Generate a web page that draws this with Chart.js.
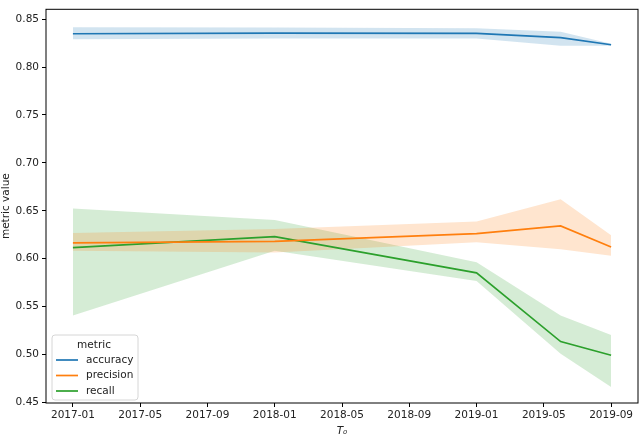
<!DOCTYPE html>
<html>
<head>
<meta charset="utf-8">
<script src="https://cdn.jsdelivr.net/npm/chart.js@4"></script>
<style>
  html, body { margin: 0; padding: 0; background: #fff; }
  #wrap { width: 640px; height: 439px; }
</style>
</head>
<body>
<div id="wrap"><canvas id="metricChart"></canvas></div>
<script>
// DATA
const dates = ["2017-01", "2018-01", "2019-01", "2019-06", "2019-09"];
const accuracy = [0.8347, 0.8354, 0.835, 0.8306, 0.8232];
const accuracyHi = [0.8415, 0.8412, 0.8405, 0.8367, 0.8242];
const accuracyLo = [0.8289, 0.8297, 0.8297, 0.8222, 0.8222];
const precision = [0.6166, 0.6182, 0.6261, 0.6343, 0.6122];
const precisionHi = [0.6268, 0.6309, 0.6388, 0.662, 0.6245];
const precisionLo = [0.6082, 0.6064, 0.6173, 0.6098, 0.6031];
const recall = [0.6115, 0.6231, 0.5853, 0.5136, 0.4993];
const recallHi = [0.6523, 0.6404, 0.5962, 0.5408, 0.5204];
const recallLo = [0.5408, 0.6082, 0.5768, 0.501, 0.4663];
const xTickLabels = ["2017-01", "2017-05", "2017-09", "2018-01", "2018-05", "2018-09", "2019-01", "2019-05", "2019-09"];
const yTicks = [0.45, 0.5, 0.55, 0.6, 0.65, 0.7, 0.75, 0.8, 0.85];

// months since 2017-01
function monthIndex(s) {
    const [y, m] = s.split("-").map(Number);
    return (y - 2017) * 12 + (m - 1);
}
const pts = (arr) => arr.map((v, i) => ({ x: monthIndex(dates[i]), y: v }));

const series = [
    { label: "accuracy", color: "#1f77b4", band: "rgba(31,119,180,0.2)", mid: accuracy, hi: accuracyHi, lo: accuracyLo },
    { label: "precision", color: "#ff7f0e", band: "rgba(255,127,14,0.2)", mid: precision, hi: precisionHi, lo: precisionLo },
    { label: "recall", color: "#2ca02c", band: "rgba(44,160,44,0.2)", mid: recall, hi: recallHi, lo: recallLo },
];

const datasets = [];
series.forEach((s) => {
    const hiIdx = datasets.length;
    datasets.push({
        data: pts(s.hi), borderWidth: 0, pointRadius: 0, backgroundColor: s.band,
        fill: { target: hiIdx + 1 }, order: 2, isBand: true,
    });
    datasets.push({
        data: pts(s.lo), borderWidth: 0, pointRadius: 0, fill: false, order: 2, isBand: true,
    });
});
series.forEach((s) => {
    datasets.push({
        label: s.label, data: pts(s.mid), borderColor: s.color, borderWidth: 1.7,
        pointRadius: 0, fill: false, tension: 0, order: 1,
    });
});

const FONT = "'DejaVu Sans', sans-serif";
const TXT = "#222";

// frame + legend
const framePlugin = {
    id: "frame",
    afterDraw(chart) {
        const { ctx, chartArea: a } = chart;
        ctx.save();
        ctx.strokeStyle = "#000";
        ctx.lineWidth = 1;
        ctx.strokeRect(a.left, a.top, a.right - a.left, a.bottom - a.top);

        // legend box
        const bx = 52, by = 335, bw = 86, bh = 65, r = 3;
        ctx.beginPath();
        ctx.moveTo(bx + r, by);
        ctx.arcTo(bx + bw, by, bx + bw, by + bh, r);
        ctx.arcTo(bx + bw, by + bh, bx, by + bh, r);
        ctx.arcTo(bx, by + bh, bx, by, r);
        ctx.arcTo(bx, by, bx + bw, by, r);
        ctx.closePath();
        ctx.fillStyle = "rgba(255,255,255,0.8)";
        ctx.fill();
        ctx.strokeStyle = "#d6d6d6";
        ctx.stroke();

        ctx.font = "10.5px " + FONT;
        ctx.fillStyle = TXT;
        ctx.textBaseline = "middle";
        ctx.textAlign = "center";
        ctx.fillText("metric", 94, 345);
        ctx.textAlign = "left";
        series.forEach((s, i) => {
            const y = 360 + i * 15.5;
            ctx.strokeStyle = s.color;
            ctx.lineWidth = 1.7;
            ctx.beginPath();
            ctx.moveTo(56, y);
            ctx.lineTo(78, y);
            ctx.stroke();
            ctx.fillText(s.label, 86, y);
        });
        ctx.restore();
    },
};

new Chart(document.getElementById("metricChart"), {
    type: "line",
    data: { datasets },
    plugins: [framePlugin],
    options: {
        responsive: true,
        maintainAspectRatio: false,
        animation: false,
        layout: { padding: { top: 1, right: 2, left: 0, bottom: 0 } },
        plugins: { legend: { display: false }, tooltip: { enabled: false } },
        scales: {
            x: {
                type: "linear",
                min: -1.6,
                max: 33.6,
                afterBuildTicks: (scale) => {
                    scale.ticks = xTickLabels.map((l) => ({ value: monthIndex(l) }));
                },
                afterFit: (scale) => { scale.height = 36; },
                ticks: {
                    color: TXT,
                    font: { family: FONT, size: 10.5 },
                    padding: 2,
                    maxRotation: 0,
                    autoSkip: false,
                    callback: (v) => xTickLabels.find((l) => monthIndex(l) === v) || "",
                },
                grid: { drawOnChartArea: false, tickLength: 4, tickColor: "#000" },
                border: { display: false },
                title: {
                    display: true, text: "T₀", color: TXT,
                    font: { family: FONT, size: 10.5, style: "italic" },
                    padding: { top: 0, bottom: 1 },
                },
            },
            y: {
                min: 0.4495,
                max: 0.8602,
                afterBuildTicks: (scale) => {
                    scale.ticks = yTicks.map((v) => ({ value: v }));
                },
                afterFit: (scale) => { scale.width = 46; },
                ticks: {
                    color: TXT,
                    font: { family: FONT, size: 10.5 },
                    padding: 3,
                    callback: (v) => v.toFixed(2),
                },
                grid: { drawOnChartArea: false, tickLength: 4, tickColor: "#000" },
                border: { display: false },
                title: {
                    display: true, text: "metric value", color: TXT,
                    font: { family: FONT, size: 10.5 },
                    padding: { top: 0, bottom: 0 },
                },
            },
        },
    },
});
</script>
</body>
</html>
